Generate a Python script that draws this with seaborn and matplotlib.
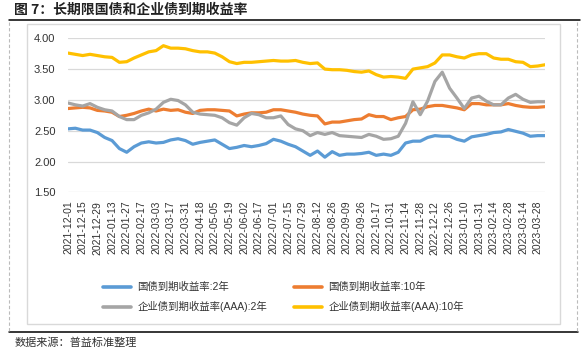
import matplotlib
matplotlib.use("Agg")
import matplotlib.pyplot as plt
from matplotlib.lines import Line2D
from matplotlib.patches import Rectangle
import seaborn as sns
import pandas as pd

# ---------------- data (sampled every 5 trading days) ----------------
tick_labels = ["2021-12-01", "2021-12-15", "2021-12-29", "2022-01-13", "2022-01-27",
               "2022-02-17", "2022-03-03", "2022-03-17", "2022-03-31", "2022-04-18",
               "2022-05-05", "2022-05-19", "2022-06-02", "2022-06-17", "2022-07-01",
               "2022-07-15", "2022-07-29", "2022-08-12", "2022-08-26", "2022-09-09",
               "2022-09-26", "2022-10-17", "2022-10-31", "2022-11-14", "2022-11-28",
               "2022-12-12", "2022-12-26", "2023-01-10", "2023-01-31", "2023-02-14",
               "2023-02-28", "2023-03-14", "2023-03-28"]

gov_2y = [2.53, 2.54, 2.51, 2.51, 2.47, 2.39, 2.34, 2.21, 2.15, 2.24,
          2.30, 2.32, 2.30, 2.31, 2.35, 2.37, 2.34, 2.28, 2.31, 2.33,
          2.35, 2.28, 2.21, 2.23, 2.26, 2.24, 2.26, 2.29, 2.36, 2.33,
          2.28, 2.24, 2.17, 2.10, 2.17, 2.07, 2.16, 2.10, 2.12, 2.12,
          2.13, 2.15, 2.10, 2.12, 2.10, 2.15, 2.30, 2.33, 2.33, 2.39,
          2.42, 2.41, 2.41, 2.36, 2.33, 2.40, 2.42, 2.44, 2.47, 2.48,
          2.52, 2.49, 2.46, 2.41, 2.42, 2.42]

gov_10y = [2.86, 2.87, 2.88, 2.87, 2.83, 2.82, 2.80, 2.73, 2.75, 2.78,
           2.82, 2.85, 2.82, 2.85, 2.83, 2.84, 2.80, 2.78, 2.83, 2.84,
           2.84, 2.83, 2.82, 2.74, 2.77, 2.79, 2.79, 2.80, 2.84, 2.84,
           2.82, 2.80, 2.77, 2.75, 2.74, 2.61, 2.64, 2.64, 2.66, 2.68,
           2.69, 2.76, 2.73, 2.73, 2.68, 2.71, 2.73, 2.84, 2.85, 2.89,
           2.91, 2.91, 2.89, 2.87, 2.84, 2.94, 2.94, 2.92, 2.92, 2.92,
           2.94, 2.91, 2.89, 2.88, 2.88, 2.89]

corp_2y = [2.95, 2.92, 2.90, 2.94, 2.88, 2.84, 2.82, 2.73, 2.68, 2.68,
           2.75, 2.79, 2.85, 2.96, 3.01, 2.99, 2.92, 2.80, 2.77, 2.76,
           2.75, 2.71, 2.63, 2.59, 2.71, 2.78, 2.76, 2.71, 2.71, 2.74,
           2.60, 2.53, 2.50, 2.42, 2.47, 2.44, 2.47, 2.42, 2.41, 2.40,
           2.39, 2.44, 2.41, 2.36, 2.37, 2.41, 2.62, 2.97, 2.76, 2.98,
           3.30, 3.45, 3.19, 3.03, 2.86, 3.03, 3.06, 2.98, 2.92, 2.92,
           3.03, 3.09, 3.01, 2.96, 2.97, 2.97]

corp_10y = [3.76, 3.74, 3.72, 3.74, 3.72, 3.70, 3.69, 3.61, 3.62, 3.68,
            3.73, 3.78, 3.80, 3.88, 3.84, 3.84, 3.83, 3.80, 3.78, 3.78,
            3.76, 3.70, 3.62, 3.59, 3.61, 3.61, 3.62, 3.63, 3.64, 3.63,
            3.63, 3.64, 3.61, 3.59, 3.60, 3.50, 3.49, 3.49, 3.48, 3.46,
            3.45, 3.47, 3.41, 3.37, 3.38, 3.37, 3.35, 3.50, 3.52, 3.54,
            3.60, 3.73, 3.73, 3.70, 3.68, 3.73, 3.75, 3.75, 3.68, 3.66,
            3.66, 3.62, 3.61, 3.54, 3.55, 3.57]

series_names = ["国债到期收益率:2年", "国债到期收益率:10年",
                "企业债到期收益率(AAA):2年", "企业债到期收益率(AAA):10年"]
series_values = [gov_2y, gov_10y, corp_2y, corp_10y]
colors = ["#5B9BD5", "#ED7D31", "#A5A5A5", "#FFC000"]

n = len(gov_2y)
df = pd.concat([pd.DataFrame({"idx": range(n), "value": v, "series": s})
                for s, v in zip(series_names, series_values)], ignore_index=True)

# ---------------- figure ----------------
sns.set_theme(style="white")
plt.rcParams['font.family'] = ['Liberation Sans', 'Noto Sans CJK SC', 'DejaVu Sans']

W, H = 585, 352
fig = plt.figure(figsize=(W / 100, H / 100), dpi=100)

def fx(px):
    return px / W

def fy(py):
    return 1 - py / H

ax = fig.add_axes([fx(68), fy(192.3), fx(545) - fx(68), fy(38.3) - fy(192.3)])

sns.lineplot(data=df, x="idx", y="value", hue="series", hue_order=series_names,
             palette=dict(zip(series_names, colors)), linewidth=2.3, ax=ax,
             legend=False)

ax.set_xlim(0, n - 1)
ax.set_ylim(1.5, 4.0)
ax.set_yticks([1.5, 2.0, 2.5, 3.0, 3.5, 4.0])
ax.set_yticklabels([f"{v:.2f}" for v in [1.5, 2.0, 2.5, 3.0, 3.5, 4.0]])
ax.set_xticks([2 * k for k in range(len(tick_labels))])
ax.set_xticklabels(tick_labels, rotation=90)
ax.tick_params(axis="x", length=0, pad=6, labelsize=7.5, colors="#333333")
ax.tick_params(axis="y", length=0, pad=9, labelsize=8, colors="#333333")
ax.set_xlabel("")
ax.set_ylabel("")
ax.grid(axis="y", color="#D9D9D9", linewidth=0.9)
ax.grid(axis="x", visible=False)
for sp in ax.spines.values():
    sp.set_visible(False)
ax.set_axisbelow(True)

# legend
handles = [Line2D([0], [0], color=c, lw=2.6) for c in colors]
order = [0, 2, 1, 3]
fig.legend([handles[i] for i in order], [series_names[i] for i in order],
           loc="upper left", bbox_to_anchor=(fx(103), fy(282)), ncol=2,
           frameon=False, fontsize=7.5, handlelength=2.7, handletextpad=0.6,
           columnspacing=2.6, labelspacing=0.85, borderpad=0, borderaxespad=0,
           labelcolor="#333333")

# decorations
fig.text(fx(14), fy(10), "图 7：长期限国债和企业债到期收益率", fontsize=10,
         fontweight="bold", va="center", ha="left",
         family=['Noto Sans CJK SC', 'DejaVu Sans'], color="#222222")
fig.text(fx(15), fy(343), "数据来源：普益标准整理", fontsize=8, va="center", ha="left",
         family=['Noto Sans CJK SC', 'DejaVu Sans'], color="#333333")

fig.add_artist(Line2D([fx(9), fx(580)], [fy(20), fy(20)], color="black", lw=1.1))
fig.add_artist(Line2D([fx(9), fx(578)], [fy(332.3), fy(332.3)], color="black", lw=1.1))
fig.add_artist(Line2D([fx(9.3), fx(9.3)], [fy(22), fy(331)], color="#BBBBBB", lw=0.8,
                      linestyle=(0, (3, 2))))
fig.add_artist(Line2D([fx(577.3), fx(577.3)], [fy(22), fy(331)], color="#BBBBBB", lw=0.8,
                      linestyle=(0, (3, 2))))
fig.add_artist(Rectangle((fx(26.7), fy(324)), fx(560.3) - fx(26.7), fy(24) - fy(324),
                         fill=False, edgecolor="#D9D9D9", lw=1.0))

fig.savefig("out.png", dpi=100)
